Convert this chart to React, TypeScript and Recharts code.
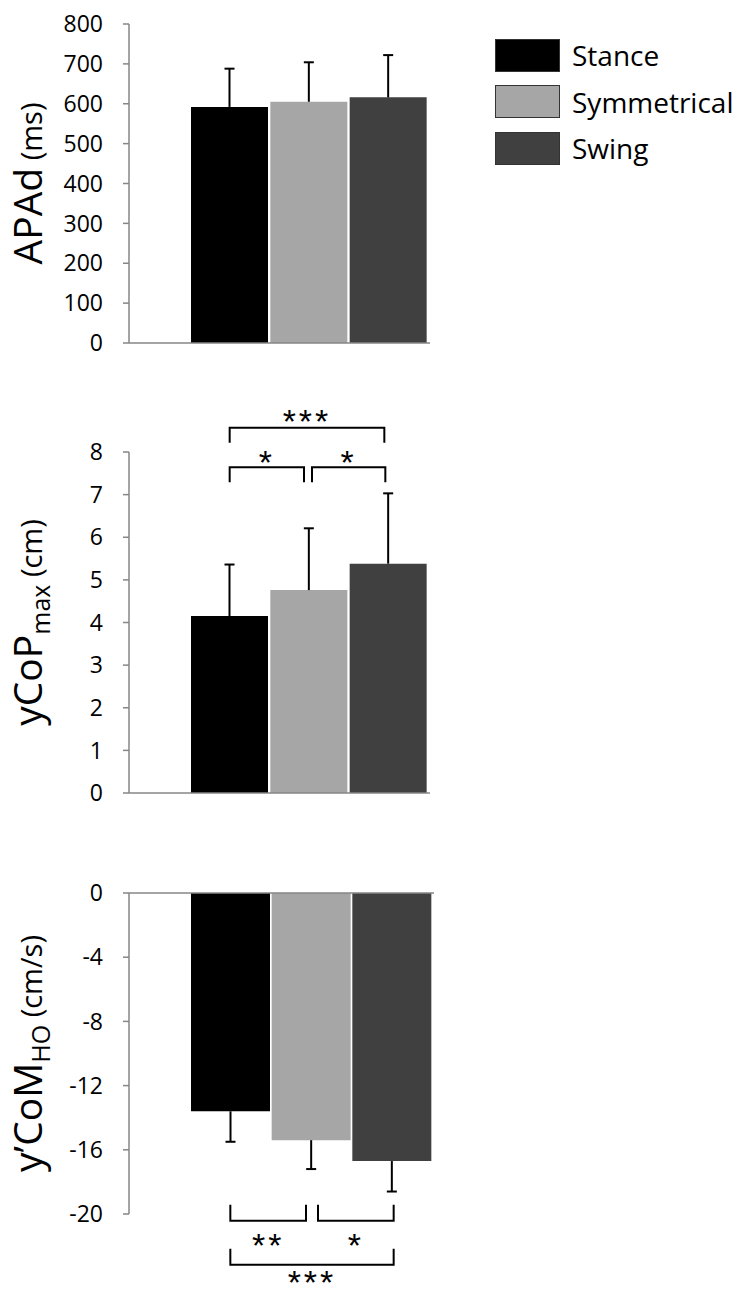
import { BarChart, Bar, Cell, XAxis, YAxis, ReferenceLine } from "recharts";

const conditions = ["Stance", "Symmetrical", "Swing"];
const colors = ["#000000", "#a6a6a6", "#404040"];

// APAd (ms)
const apadMeans = [592, 605, 616];
const apadSd = [96, 99, 106];
const apadTicks = [0, 100, 200, 300, 400, 500, 600, 700, 800];

// yCoPmax (cm)
const ycopMeans = [4.15, 4.76, 5.38];
const ycopSd = [1.21, 1.45, 1.65];
const ycopTicks = [0, 1, 2, 3, 4, 5, 6, 7, 8];
const ycopSig = [
  { from: "Stance", to: "Symmetrical", level: 7.64, stars: "*" },
  { from: "Symmetrical", to: "Swing", level: 7.64, stars: "*" },
  { from: "Stance", to: "Swing", level: 8.57, stars: "***" },
];

// y'CoMHO (cm/s)
const ycomMeans = [-13.6, -15.4, -16.7];
const ycomSd = [1.9, 1.8, 1.9];
const ycomTicks = [-20, -16, -12, -8, -4, 0];
const ycomSig = [
  { from: "Stance", to: "Symmetrical", level: -20.42, stars: "**" },
  { from: "Symmetrical", to: "Swing", level: -20.42, stars: "*" },
  { from: "Stance", to: "Swing", level: -23.16, stars: "***" },
];

// small pixel insets so neighbouring brackets don't touch
const ycopInsets = [[0, 5], [3, 3], [0, 4]];
const ycomInsets = [[0, 5], [7, -2], [0, -2]];

const FONT = "'Open Sans', sans-serif";
const AXIS = "#868686";

// the SD is stacked on top of the mean and drawn as a one-sided whisker
const apadData = conditions.map((c, i) => ({ condition: c, mean: apadMeans[i], sd: apadSd[i] }));
const ycopData = conditions.map((c, i) => ({ condition: c, mean: ycopMeans[i], sd: ycopSd[i] }));
const ycomData = conditions.map((c, i) => ({ condition: c, mean: ycomMeans[i], sd: -ycomSd[i] }));

function Whisker(p: any) {
  const cx = p.x + p.width / 2;
  const tip = p.y;
  const base = p.y + p.height;
  return (
    <g>
      <line x1={cx} y1={base} x2={cx} y2={tip} stroke="#000" strokeWidth={2} />
      <line x1={cx - 5} y1={tip} x2={cx + 5} y2={tip} stroke="#000" strokeWidth={2} />
    </g>
  );
}

function bracketShape(stars: string, tick: number, textGap: number, inset: number[]) {
  return (p: any) => {
    const x1 = p.x1 + inset[0];
    const x2 = p.x2 - inset[1];
    const y = p.y1;
    const d = `M${x1},${y + tick}V${y}H${x2}V${y + tick}`;
    return (
      <g>
        <path d={d} fill="none" stroke="#000" strokeWidth={2} />
        <text
          x={(x1 + x2) / 2}
          y={y + textGap}
          textAnchor="middle"
          dominantBaseline="central"
          fontFamily="'Liberation Sans', Arial, sans-serif"
          fontSize={34}
          letterSpacing={3}
          fill="#000"
        >
          {stars}
        </text>
      </g>
    );
  };
}

function AxisTitle({ viewBox, main, sub, unit }: any) {
  const cx = 42;
  const cy = viewBox.y + viewBox.height / 2;
  return (
    <text
      x={cx}
      y={cy}
      transform={`rotate(-90 ${cx} ${cy})`}
      textAnchor="middle"
      fontFamily={FONT}
      fill="#000"
    >
      <tspan fontSize={39}>{main}</tspan>
      {sub ? (
        <tspan fontSize={25} dy={8}>
          {sub}
        </tspan>
      ) : null}
      <tspan fontSize={29} dy={sub ? -8 : 0}>
        {" " + unit}
      </tspan>
    </text>
  );
}

const yAxisProps = {
  width: 129,
  tickSize: 6,
  tickMargin: 20,
  interval: 0 as const,
  axisLine: { stroke: AXIS, strokeWidth: 1.5 },
  tickLine: { stroke: AXIS, strokeWidth: 1.5 },
  tick: { fontSize: 23, fill: "#000", fontFamily: FONT },
};

function panelBars(data: { condition: string }[]) {
  return [
    <Bar key="bars" dataKey="mean" stackId="s" isAnimationActive={false}>
      {data.map((d, i) => (
        <Cell key={d.condition} fill={colors[i]} />
      ))}
    </Bar>,
    <Bar key="sd" dataKey="sd" stackId="s" shape={Whisker} isAnimationActive={false} />,
  ];
}

export default function App() {
  return (
    <div style={{ position: "absolute", left: 0, top: 0, width: 750, height: 1300, background: "#fff" }}>
      <div style={{ position: "absolute", left: 0, top: 0 }}>
        <BarChart width={450} height={364} data={apadData} margin={{ top: 24, right: 20, bottom: 20, left: 0 }} barCategoryGap={1}>
          <XAxis dataKey="condition" height={1} tick={false} tickLine={false} axisLine={{ stroke: AXIS, strokeWidth: 1.5 }} padding={{ left: 61, right: 2 }} />
          <YAxis {...yAxisProps} domain={[0, 800]} ticks={apadTicks} label={<AxisTitle main="APAd" unit="(ms)" />} />
          {panelBars(apadData)}
        </BarChart>
      </div>

      <div style={{ position: "absolute", left: 0, top: 380 }}>
        <BarChart width={450} height={434} data={ycopData} margin={{ top: 72, right: 20, bottom: 20, left: 0 }} barCategoryGap={1}>
          <XAxis dataKey="condition" height={1} tick={false} tickLine={false} axisLine={{ stroke: AXIS, strokeWidth: 1.5 }} padding={{ left: 61, right: 2 }} />
          <YAxis {...yAxisProps} domain={[0, 8]} ticks={ycopTicks} label={<AxisTitle main="yCoP" sub="max" unit="(cm)" />} />
          {panelBars(ycopData)}
          {ycopSig.map((s, i) => (
            <ReferenceLine
              key={i}
              ifOverflow="visible"
              segment={[{ x: s.from, y: s.level }, { x: s.to, y: s.level }]}
              shape={bracketShape(s.stars, 15, s.stars === "***" ? -7 : -5, ycopInsets[i])}
            />
          ))}
        </BarChart>
      </div>

      <div style={{ position: "absolute", left: 0, top: 870 }}>
        <BarChart width={450} height={430} data={ycomData} margin={{ top: 22, right: 16, bottom: 86, left: 0 }} barCategoryGap={1}>
          <XAxis dataKey="condition" orientation="top" height={1} tick={false} tickLine={false} axisLine={{ stroke: AXIS, strokeWidth: 1.5 }} padding={{ left: 61, right: 2 }} />
          <YAxis {...yAxisProps} domain={[-20, 0]} ticks={ycomTicks} label={<AxisTitle main="y’CoM" sub="HO" unit="(cm/s)" />} />
          {panelBars(ycomData)}
          {ycomSig.map((s, i) => (
            <ReferenceLine
              key={i}
              ifOverflow="visible"
              segment={[{ x: s.from, y: s.level }, { x: s.to, y: s.level }]}
              shape={bracketShape(s.stars, -16, s.stars === "***" ? 17 : 24, ycomInsets[i])}
            />
          ))}
        </BarChart>
      </div>

      <div style={{ position: "absolute", left: 495, top: 32, fontFamily: FONT, fontSize: 28 }}>
        {conditions.map((c, i) => (
          <div key={c} style={{ display: "flex", alignItems: "center", height: 46.5 }}>
            <div style={{ width: 63, height: 31, background: colors[i], border: "1.5px solid #333", marginRight: 12 }} />
            <span>{c}</span>
          </div>
        ))}
      </div>
    </div>
  );
}
